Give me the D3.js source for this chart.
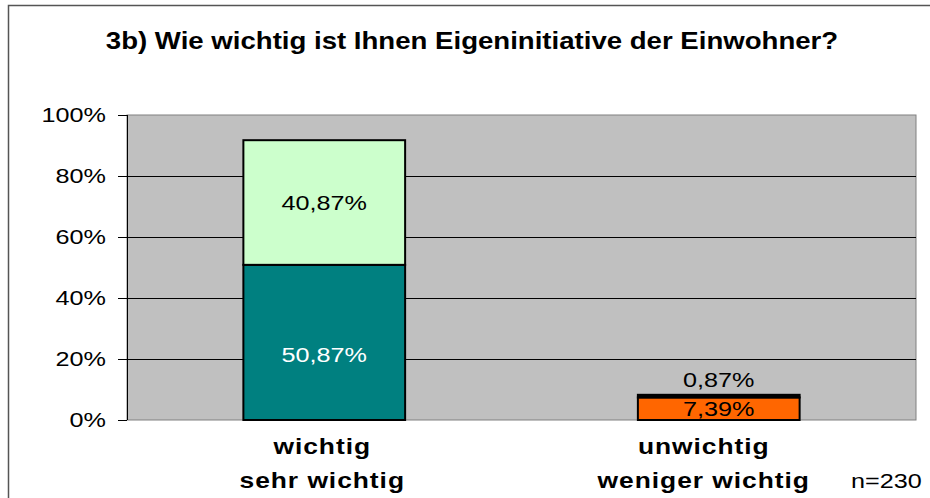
<!DOCTYPE html>
<html><head><meta charset="utf-8">
<script src="https://cdn.jsdelivr.net/npm/d3@7"></script>
<style>body{margin:0;background:#fff;}svg{display:block;font-family:"Liberation Sans",Arial,sans-serif;}</style>
</head><body>
<svg id="c" width="930" height="498"></svg>
<script>
const title = "3b) Wie wichtig ist Ihnen Eigeninitiative der Einwohner?";
const categories = ["wichtig|sehr wichtig", "unwichtig|weniger wichtig"];
const bottomSeries = [50.87, 7.39];   // sehr wichtig / weniger wichtig
const topSeries = [40.87, 0.87];      // wichtig / unwichtig
const bottomLabels = ["50,87%", "7,39%"];
const topLabels = ["40,87%", "0,87%"];
const yTicks = [0, 20, 40, 60, 80, 100];
const note = "n=230";

const SX = 1.2; // horizontal stretch of text as in reference
const svg = d3.select("#c");
function txt(x, y, s, o) {
  o = o || {};
  const g = svg.append("g").attr("transform", `translate(${x},${y}) scale(${SX},1)`);
  return g.append("text").attr("x", 0).attr("y", 0)
    .attr("text-anchor", o.anchor || "middle")
    .attr("dominant-baseline", o.baseline || "auto")
    .attr("font-size", o.size || 21)
    .attr("font-weight", o.weight || "normal")
    .attr("letter-spacing", o.ls || 0)
    .attr("fill", o.fill || "#000").text(s);
}

// outer frame
svg.append("path").attr("d","M8.5,498 V5.5 H930").attr("fill","none").attr("stroke","#555").attr("stroke-width",1.5);

const x0 = 127, x1 = 916, yTop = 115, yBot = 420;
const x = d3.scaleBand().domain(categories).range([x0, x1]).paddingInner(0.59).paddingOuter(0.295);
const y = d3.scaleLinear().domain([0, 100]).range([yBot, yTop]);

svg.append("rect").attr("x",x0).attr("y",yTop).attr("width",x1-x0).attr("height",yBot-yTop)
  .attr("fill","#c0c0c0").attr("stroke","#808080").attr("stroke-width",1);

// gridlines
svg.append("g").selectAll("line").data(yTicks.filter(d=>d>0 && d<100)).join("line")
  .attr("x1",x0).attr("x2",x1).attr("y1",d=>y(d)+0.5).attr("y2",d=>y(d)+0.5)
  .attr("stroke","#000").attr("stroke-width",1);

// axis
const ax = svg.append("g").attr("transform",`translate(${x0},0)`)
  .call(d3.axisLeft(y).tickValues(yTicks).tickFormat(d=>d+"%").tickSize(9).tickPadding(12));
ax.select(".domain").attr("stroke","#000").attr("d",`M0.5,${yTop}V${yBot}`);
ax.selectAll(".tick line").attr("stroke","#000");
ax.selectAll("text").attr("font-size",21).attr("fill","#000")
  .attr("font-family","Liberation Sans, Arial, sans-serif")
  .attr("x", -21/SX).attr("transform", `scale(${SX},1)`);

// bars
const bw = x.bandwidth();
categories.forEach((c,i)=>{
  const b = bottomSeries[i], t = topSeries[i];
  svg.append("rect").attr("x",x(c)).attr("y",y(b)).attr("width",bw).attr("height",y(0)-y(b))
    .attr("fill", i===0 ? "#008080" : "#ff6600").attr("stroke","#000").attr("stroke-width",2);
  svg.append("rect").attr("x",x(c)).attr("y",y(b+t)).attr("width",bw).attr("height",y(b)-y(b+t))
    .attr("fill", i===0 ? "#ccffcc" : "#000").attr("stroke","#000").attr("stroke-width",2);
});
// value labels
categories.forEach((c,i)=>{
  const cx = x(c)+bw/2, b = bottomSeries[i], t = topSeries[i];
  txt(cx, i===0 ? (y(0)+y(b))/2 + 12 : (y(0)+y(b))/2, bottomLabels[i],
      {baseline:"central", fill: i===0 ? "#fff" : "#000"});
  txt(cx, i===0 ? (y(b)+y(b+t))/2 : y(b+t) - 15, topLabels[i], {baseline:"central"});
});

// category labels
categories.forEach((c,i)=>{
  const cx = x(c)+bw/2 - (i===1 ? 15 : 2);
  c.split("|").forEach((s,j)=>{
    txt(cx, 454+j*34, s, {size:22, weight:"bold", ls:0.8});
  });
});

txt(472, 49, title, {size:23, weight:"bold"});
txt(851, 488, note, {anchor:"start", size:21});
</script>
</body></html>
